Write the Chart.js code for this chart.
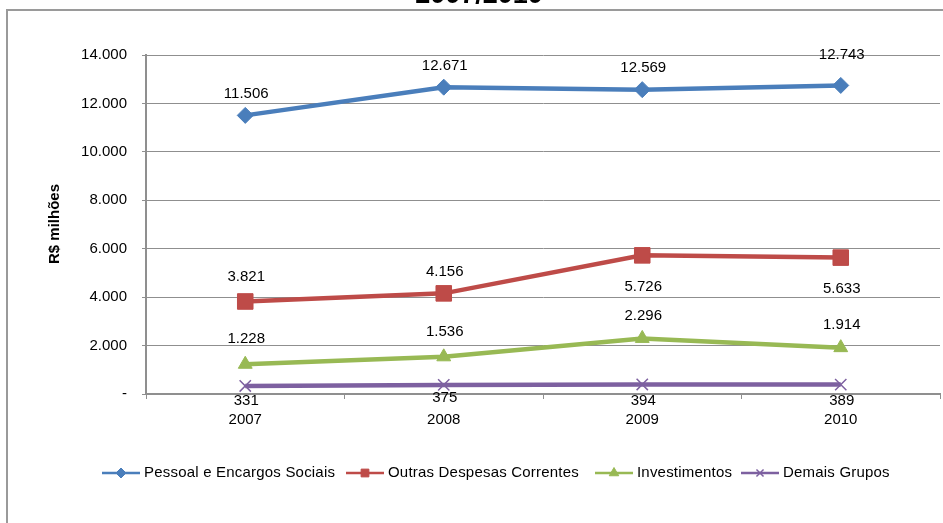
<!DOCTYPE html>
<html lang="pt-BR">
<head>
<meta charset="utf-8">
<title>Despesas 2007/2010</title>
<script src="https://cdn.jsdelivr.net/npm/chart.js@4.4.1/dist/chart.umd.min.js"></script>
<style>
  html, body { margin: 0; padding: 0; background: #ffffff; }
  #wrap { position: relative; width: 943px; height: 523px; }
</style>
</head>
<body>
<div id="wrap"><canvas id="chart" width="943" height="523"></canvas></div>
<script>
// Anos e valores (R$ milhões)
const anos = ['2007', '2008', '2009', '2010'];
const pessoal = [11506, 12671, 12569, 12743];
const outrasCorrentes = [3821, 4156, 5726, 5633];
const investimentos = [1228, 1536, 2296, 1914];
const demaisGrupos = [331, 375, 394, 389];
const yTicks = [0, 2000, 4000, 6000, 8000, 10000, 12000, 14000];

const FONT = '"Liberation Sans", Arial, Helvetica, sans-serif';
const GRID = '#8f8f8f';

function fmt(v) {
  if (v === 0) return '-';
  return String(v).replace(/\B(?=(\d{3})+(?!\d))/g, '.');
}

// Rótulos de valor junto a cada ponto (deslocamento vertical em px)
const valueLabels = {
  id: 'valueLabels',
  afterDatasetsDraw(chart) {
    const ctx = chart.ctx;
    ctx.save();
    ctx.font = '15px ' + FONT;
    ctx.fillStyle = '#000';
    ctx.textAlign = 'center';
    ctx.textBaseline = 'middle';
    chart.data.datasets.forEach((ds, i) => {
      const meta = chart.getDatasetMeta(i);
      meta.data.forEach((pt, j) => {
        ctx.fillText(fmt(ds.data[j]), pt.x + 1, pt.y + ds.labelDy[j]);
      });
    });
    ctx.restore();
  }
};

// Moldura, título, título do eixo Y e legenda desenhados no canvas
const decorations = {
  id: 'decorations',
  beforeDraw(chart) {
    const ctx = chart.ctx;
    ctx.save();
    ctx.strokeStyle = '#9a9a9a';
    ctx.lineWidth = 2;
    ctx.beginPath();
    ctx.moveTo(7, chart.height);
    ctx.lineTo(7, 10);
    ctx.lineTo(chart.width, 10);
    ctx.stroke();

    ctx.font = 'bold 27px ' + FONT;
    ctx.fillStyle = '#000';
    ctx.textAlign = 'center';
    ctx.textBaseline = 'alphabetic';
    ctx.fillText('2007/2010', 479, 3);

    ctx.translate(55, 224);
    ctx.rotate(-Math.PI / 2);
    ctx.font = 'bold 15px ' + FONT;
    ctx.textBaseline = 'middle';
    ctx.fillText('R$ milhões', 0, 0);
    ctx.restore();
  },
  afterDraw(chart) {
    const ctx = chart.ctx;
    const starts = [102, 346, 595, 741];
    const y = 473;
    ctx.save();
    ctx.font = '15px ' + FONT;
    ctx.letterSpacing = '0.2px';
    ctx.textBaseline = 'middle';
    ctx.textAlign = 'left';
    chart.data.datasets.forEach((ds, i) => {
      const x0 = starts[i];
      ctx.strokeStyle = ds.borderColor;
      ctx.lineWidth = 2.5;
      ctx.beginPath();
      ctx.moveTo(x0, y);
      ctx.lineTo(x0 + 38, y);
      ctx.stroke();
      ctx.fillStyle = ds.pointBackgroundColor;
      ctx.strokeStyle = ds.pointBorderColor;
      ctx.lineWidth = ds.pointBorderWidth;
      Chart.helpers.drawPoint(ctx, {
        pointStyle: ds.pointStyle,
        radius: ds.legendRadius,
        borderWidth: ds.pointBorderWidth
      }, x0 + 19, y);
      ctx.fillStyle = '#000';
      ctx.fillText(ds.label, x0 + 42, y);
    });
    ctx.restore();
  }
};

function serie(label, data, color, style, radius, legendRadius, labelDy, extra) {
  return Object.assign({
    label: label,
    data: data,
    borderColor: color,
    backgroundColor: color,
    pointBackgroundColor: color,
    pointBorderColor: color,
    pointBorderWidth: 1,
    pointStyle: style,
    pointRadius: radius,
    pointHoverRadius: radius,
    legendRadius: legendRadius,
    borderWidth: 4.5,
    tension: 0,
    fill: false,
    labelDy: labelDy
  }, extra || {});
}

const datasets = [
  serie('Pessoal e Encargos Sociais', pessoal, '#4a7ebb', 'rectRot', 8, 5, [-22, -21, -22, -31]),
  serie('Outras Despesas Correntes', outrasCorrentes, '#be4b48', 'rect', 11, 5.5, [-25, -22, 32, 31]),
  serie('Investimentos', investimentos, '#98b954', 'triangle', 8, 5.5, [-25, -25, -23, -23]),
  serie('Demais Grupos', demaisGrupos, '#7d60a0', 'crossRot', 8, 5, [15, 13, 16, 16],
        { pointBorderWidth: 1.5 })
];

new Chart(document.getElementById('chart'), {
  type: 'line',
  data: { labels: anos, datasets: datasets },
  plugins: [decorations, valueLabels],
  options: {
    responsive: false,
    animation: false,
    events: [],
    layout: {
      autoPadding: false,
      padding: { left: 0, top: 55, right: 3, bottom: 89 }
    },
    plugins: {
      legend: { display: false },
      title: { display: false },
      tooltip: { enabled: false }
    },
    scales: {
      x: {
        offset: true,
        afterFit(scale) { scale.height = 40; },
        grid: {
          offset: true,
          drawOnChartArea: false,
          drawTicks: true,
          tickLength: 5,
          color: GRID,
          lineWidth: 1
        },
        border: { display: true, color: GRID, width: 2 },
        ticks: {
          color: '#000',
          font: { family: FONT, size: 15 },
          padding: 12,
          maxRotation: 0
        }
      },
      y: {
        min: 0,
        max: 14000,
        afterFit(scale) { scale.width = 146; },
        afterBuildTicks(scale) { scale.ticks = yTicks.map(v => ({ value: v })); },
        grid: {
          color: GRID,
          lineWidth: 1,
          drawTicks: true,
          tickLength: 4
        },
        border: { display: true, color: GRID, width: 2 },
        ticks: {
          color: '#000',
          font: { family: FONT, size: 15 },
          padding: 15,
          callback: (v) => fmt(v)
        }
      }
    }
  }
});
</script>
</body>
</html>
